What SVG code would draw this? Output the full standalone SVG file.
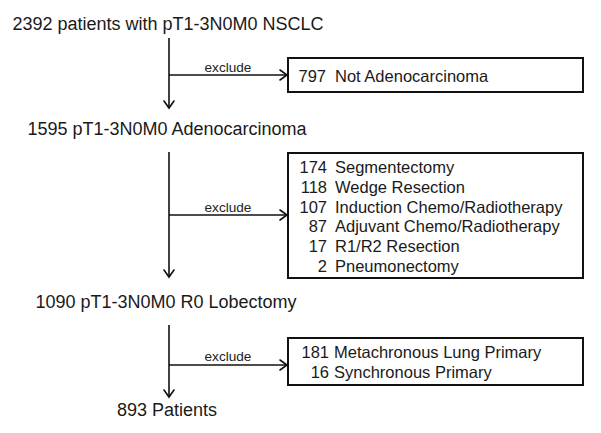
<svg xmlns="http://www.w3.org/2000/svg" width="601" height="433" viewBox="0 0 601 433">
<style>
  .main { font-family: "Liberation Sans", Arial, sans-serif; font-size: 18px; fill: #1a1a1a; text-anchor: middle; }
  .lbl { font-family: "Liberation Sans", Arial, sans-serif; font-size: 13.6px; fill: #222; text-anchor: middle; }
  .bx { font-family: "Liberation Sans", Arial, sans-serif; font-size: 16.5px; fill: #1a1a1a; }
  .num { text-anchor: end; }
  .box { fill: #fff; stroke: #111; stroke-width: 2; }
  .ln { stroke: #111; stroke-width: 1.6; fill: none; }
  .ah { stroke: #111; stroke-width: 1.6; fill: none; stroke-linecap: round; stroke-linejoin: miter; }
</style>
<rect width="601" height="433" fill="#fff"/>

<g id="n1"><text class="main" x="168" y="30">2392 patients with pT1-3N0M0 NSCLC</text></g>
<g id="n2"><text class="main" x="167" y="135">1595 pT1-3N0M0 Adenocarcinoma</text></g>
<g id="n3"><text class="main" x="166" y="308">1090 pT1-3N0M0 R0 Lobectomy</text></g>
<g id="n4"><text class="main" x="167" y="416">893 Patients</text></g>

<g id="ex1">
  <rect class="box" x="288" y="58" width="295" height="34"/>
  <text class="bx num" x="326" y="82">797</text>
  <text class="bx" x="335" y="82">Not Adenocarcinoma</text>
</g>

<g id="ex2">
  <rect class="box" x="288" y="153" width="295" height="125"/>
  <text class="bx num" x="327" y="173">174</text><text class="bx" x="335" y="173">Segmentectomy</text>
  <text class="bx num" x="327" y="192.8">118</text><text class="bx" x="335" y="192.8">Wedge Resection</text>
  <text class="bx num" x="327" y="212.6">107</text><text class="bx" x="335" y="212.6">Induction Chemo/Radiotherapy</text>
  <text class="bx num" x="327" y="232.4">87</text><text class="bx" x="335" y="232.4">Adjuvant Chemo/Radiotherapy</text>
  <text class="bx num" x="327" y="252.2">17</text><text class="bx" x="335" y="252.2">R1/R2 Resection</text>
  <text class="bx num" x="327" y="272">2</text><text class="bx" x="335" y="272">Pneumonectomy</text>
</g>

<g id="ex3">
  <rect class="box" x="288" y="338" width="295" height="47"/>
  <text class="bx num" x="329" y="358">181</text><text class="bx" x="334" y="358">Metachronous Lung Primary</text>
  <text class="bx num" x="329" y="378">16</text><text class="bx" x="334" y="378">Synchronous Primary</text>
</g>

<g id="connectors">
  <line class="ln" x1="169" y1="38" x2="169" y2="107"/>
  <polyline class="ah" points="164,101 169,108 174,101"/>
  <line class="ln" x1="169" y1="75" x2="286" y2="75"/>
  <polyline class="ah" points="280,70 287,75 280,80"/>
  <text class="lbl" x="228" y="71.5">exclude</text>

  <line class="ln" x1="169" y1="152" x2="169" y2="276"/>
  <polyline class="ah" points="164,270 169,277 174,270"/>
  <line class="ln" x1="169" y1="215" x2="286" y2="215"/>
  <polyline class="ah" points="280,210 287,215 280,220"/>
  <text class="lbl" x="228" y="212">exclude</text>

  <line class="ln" x1="169" y1="325" x2="169" y2="396"/>
  <polyline class="ah" points="164,390 169,397 174,390"/>
  <line class="ln" x1="169" y1="365" x2="286" y2="365"/>
  <polyline class="ah" points="280,360 287,365 280,370"/>
  <text class="lbl" x="228" y="361">exclude</text>
</g>
</svg>
